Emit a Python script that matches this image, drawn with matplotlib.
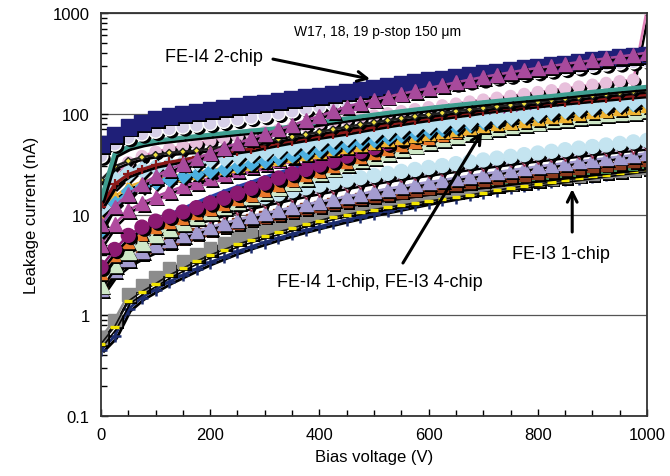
import numpy as np
import matplotlib
matplotlib.use("Agg")
import matplotlib.pyplot as plt
import matplotlib.patheffects as pe
from matplotlib.ticker import FixedLocator, LogLocator, NullFormatter, FixedFormatter, MultipleLocator

plt.rcParams['font.family'] = ['Liberation Sans', 'DejaVu Sans']

# Bias voltage steps (V)
volts = np.arange(0, 1001, 25)

# ---- FE-I3 1-chip (nA) ----
i3_plus = [0.45, 0.62, 1.15, 1.5, 1.8, 2.15, 2.5, 2.9, 3.35, 3.8, 4.3, 4.8, 5.3, 5.85, 6.4, 7.0, 7.6, 8.2, 8.85, 9.5,
           10.2, 10.9, 11.6, 12.4, 13.2, 14.0, 14.8, 15.6, 16.5, 17.4, 18.3, 19.2, 20.1, 21.0, 21.9, 22.9, 23.9, 24.9,
           25.9, 26.9, 28]
i3_yellow = [0.52, 0.77, 1.38, 1.72, 2.06, 2.5, 2.92, 3.44, 3.96, 4.47, 5.07, 5.59, 6.11, 6.71, 7.31, 8.0, 8.69, 9.46,
             9.98, 10.6, 11.2, 11.8, 12.4, 13.0, 13.6, 14.2, 14.8, 15.6, 16.5, 17.4, 18.3, 19.2, 20.1, 21.0, 21.9,
             22.9, 23.9, 24.9, 25.9, 26.9, 28]
i3_gray = [0.6, 0.9, 1.6, 2.0, 2.4, 2.9, 3.4, 4.0, 4.6, 5.2, 5.9, 6.5, 7.1, 7.8, 8.5, 9.3, 10.1, 11.0, 11.6, 12.3,
           13.0, 13.7, 14.4, 15.1, 15.8, 16.5, 17.2, 18.0, 18.8, 19.6, 20.4, 21.2, 22.0, 22.8, 23.6, 24.5, 25.4, 26.3,
           27.2, 28.1, 29]
i3_green = [1.6, 2.5, 3.2, 3.8, 4.4, 5.0, 5.5, 6.1, 6.7, 7.3, 7.9, 8.5, 9.1, 9.7, 10.3, 10.9, 11.5, 12.1, 12.7, 13.3,
            13.9, 14.5, 15.1, 15.8, 16.5, 17.2, 17.9, 18.6, 19.3, 20.0, 20.8, 21.6, 22.4, 23.2, 24.0, 24.9, 25.8,
            26.7, 27.6, 28.6, 29.6]
i3_brown = [1.75, 2.7, 3.45, 4.1, 4.75, 5.3, 5.85, 6.4, 7.0, 7.6, 8.2, 8.85, 9.45, 10.05, 10.7, 11.4, 12.1, 12.8,
            13.55, 14.3, 15.1, 15.9, 16.7, 17.5, 18.3, 19.1, 20.0, 20.9, 21.8, 22.7, 23.7, 24.7, 25.7, 26.7, 27.7,
            28.8, 29.9, 31.0, 32.1, 33.3, 34.5]
i3_lav = [1.8, 2.8, 3.6, 4.3, 5.0, 5.6, 6.2, 6.8, 7.5, 8.2, 8.9, 9.6, 10.3, 11.0, 11.8, 12.6, 13.4, 14.2, 15.1, 16.0,
          17.0, 18.0, 19.0, 20, 21, 22, 23.1, 24.2, 25.3, 26.4, 27.6, 28.8, 30, 31.2, 32.4, 33.7, 35, 36.3, 37.6,
          39, 40.5]
i3_white = [2.6, 3.6, 4.5, 5.3, 6.1, 6.9, 7.7, 8.5, 9.3, 10.2, 11.1, 12.0, 12.9, 13.8, 14.8, 15.8, 16.8, 17.8, 18.9,
            20, 21.1, 22.2, 23.3, 24.4, 25.5, 26.7, 27.9, 29.1, 30.3, 31.5, 32.8, 34.1, 35.4, 36.7, 38, 39.4, 40.8,
            42.2, 43.6, 45, 46.5]
i3_sky = [3.0, 4.2, 5.3, 6.2, 7.1, 8.0, 8.9, 9.9, 10.9, 11.9, 12.9, 14.0, 15.0, 16.0, 17.2, 18.4, 19.6, 20.8, 22,
          23.2, 24.4, 25.6, 26.8, 28, 29.3, 30.6, 32, 33.4, 34.8, 36.3, 37.8, 39.3, 40.8, 42.4, 44, 45.6, 47.3, 49,
          50.8, 52.6, 54.5]

# ---- FE-I4 1-chip, FE-I3 4-chip (nA) ----
b_green = [2.0, 3.2, 4.3, 5.3, 6.3, 7.3, 8.4, 9.5, 10.7, 12.0, 13.4, 15.0, 16.8, 18.8, 21, 23.5, 26, 29, 32, 35,
           38, 41, 45, 49, 53, 57, 61, 65, 69, 73, 76, 80, 83, 87, 90, 94, 97, 100, 103, 106, 110]
b_blue = [2.5, 4.0, 5.5, 7.0, 8.5, 10, 11.5, 13.2, 15, 17, 19, 21, 23.5, 26, 28.5, 31, 34, 37, 40, 43,
          47, 51, 55, 59, 63, 68, 73, 78, 83, 88, 93, 98, 103, 108, 114, 120, 126, 132, 138, 144, 150]
b_orange = [2.6, 3.9, 5.3, 6.4, 7.4, 8.3, 9.2, 10.2, 11.3, 12.6, 14, 15.6, 17.5, 19.6, 22, 24.5, 27, 30, 33, 36.5,
            40, 44, 48, 52.5, 57, 61.5, 66, 70.5, 75, 79.5, 84, 88.5, 93, 97.5, 102, 106.5, 111, 115.5, 120, 124.5,
            129]
b_plum = [3.0, 4.5, 6.2, 7.5, 8.6, 9.6, 10.6, 11.7, 13, 14.5, 16.2, 18.2, 20.5, 23, 25.5, 28, 31, 34, 38, 42,
          46, 51, 56, 61, 66, 71, 76, 81, 86, 91, 96, 101, 106, 111, 116, 121, 126, 131, 136, 141, 146]
b_magenta = [5, 8, 11, 13, 15, 17, 19, 21, 23, 25, 27.5, 30, 32.5, 35, 38, 41, 44, 47, 50, 53,
             57, 61, 65, 69, 73, 77, 81, 85, 90, 95, 100, 105, 110, 115, 120, 125, 130, 135, 140, 145, 150]
b_gold = [9, 15, 19, 21, 23, 24, 25, 26, 27.5, 29, 30.5, 32, 34, 36, 38, 40, 42, 44.5, 47, 49.5,
          52, 55, 58, 61, 64, 67, 70, 73, 76, 79, 82, 85.5, 89, 92.5, 96, 100, 104, 108, 112, 116, 120]
b_azure = [7, 13, 17, 19, 21, 22.5, 24, 25.5, 27, 28.5, 30, 32, 34, 36, 38.5, 41, 43.5, 46, 49, 52,
           55, 58, 61, 64, 67, 70, 74, 78, 82, 86, 90, 94, 98, 102, 106, 110, 114, 118, 122, 126, 130]
b_pale = [12, 22, 26, 28, 30, 31, 33, 34, 36, 37, 39, 41, 43, 45, 48, 51, 54, 57, 60, 63,
          66, 69, 72, 75, 78, 81, 84, 87, 90, 93, 96, 100, 104, 108, 112, 116, 120, 124, 128, 132, 136]
b_red = [12, 20, 25, 28, 31, 33, 35, 37, 39, 41, 43, 45, 48, 51, 54, 57, 60, 63, 66, 70,
         74, 78, 82, 86, 90, 94, 98, 102, 107, 111, 115, 119, 123, 127, 131, 135, 139, 143, 147, 151, 155]
b_black = [22, 30, 34, 37, 39, 41, 42, 43, 45, 47, 49, 51, 53, 56, 59, 62, 66, 70, 74, 78,
           82, 86, 90, 94, 98, 102, 106, 110, 114, 118, 122, 126, 131, 136, 141, 146, 151, 156, 161, 166, 171]
b_teal = [14, 40, 47, 51, 54, 56, 58, 60, 62, 64, 66, 68, 70, 72, 75, 78, 82, 86, 90, 94,
          98, 102, 106, 110, 114, 118, 122, 126, 130, 134, 138, 142, 146, 150, 155, 160, 165, 170, 175, 180, 185]
b_pink = [10, 25, 33, 38, 42, 45, 48, 51, 54, 57, 60, 63, 66, 69, 72, 76, 80, 84, 88, 92,
          96, 101, 106, 111, 116, 121, 126, 132, 138, 144, 150, 157, 164, 171, 178, 186, 194, 202, 210, 218, 1100]

# ---- FE-I4 2-chip (nA) ----
a_lilac = [38, 50, 58, 63, 67, 71, 74, 77, 80, 84, 88, 92, 96, 101, 106, 112, 118, 125, 132, 139,
           147, 155, 164, 173, 182, 192, 202, 212, 222, 232, 242, 252, 262, 272, 282, 292, 302, 312, 320, 328, 335]
a_navy = [50, 62, 74, 82, 90, 95, 100, 105, 110, 115, 120, 125, 130, 136, 141, 147, 153, 160, 167, 174,
          182, 190, 198, 207, 216, 225, 234, 244, 254, 264, 275, 286, 297, 308, 318, 330, 342, 354, 366, 378, 390]
a_magenta = [8, 12, 16, 20, 24, 28, 32, 36, 41, 46, 51, 57, 63, 70, 77, 86, 95, 106, 118, 128,
             138, 148, 158, 168, 180, 192, 205, 218, 232, 245, 258, 272, 285, 298, 312, 326, 340, 355, 370, 385, 405]


def trace(ax, y, color, marker=None, ms=9, mfc=None, mec=None, mew=1.0, lw=1.8, lcolor=None):
    """One IV curve: line plus markers, both with an offset black shadow."""
    y = np.asarray(y, dtype=float)
    ax.plot(volts, y, color=lcolor or color, lw=lw, solid_capstyle='butt',
            path_effects=[pe.SimpleLineShadow(offset=(1.5, -1.5), shadow_color='k', alpha=1.0),
                          pe.Normal()])
    if marker is None:
        return
    face = mfc or color
    ax.plot(volts, y, ls='none', marker=marker, ms=ms, mfc=face, mec=mec or face, mew=mew,
            path_effects=[pe.SimplePatchShadow(offset=(2.0, -2.0), shadow_rgbFace='k', alpha=1.0),
                          pe.Normal()])


fig = plt.figure(figsize=(6.7, 4.77), dpi=100)
ax = fig.add_axes([0.1507, 0.1258, 0.8150, 0.8448])

# FE-I3 1-chip
trace(ax, i3_plus, '#1c2c6e', '+', ms=9, mew=1.8, lw=2)
trace(ax, i3_gray, '#8c8c8c', 's', ms=9)
trace(ax, i3_yellow, '#f2e400', '_', ms=6, mew=2.4, lw=1.2, lcolor='#111111')
trace(ax, i3_green, '#3d8b5a', '_', ms=7, mew=2.8)
trace(ax, i3_brown, '#8b3a1e', 's', ms=8)
trace(ax, i3_lav, '#a49cd0', '^', ms=10)
trace(ax, i3_white, '#9a3050', 'v', ms=7, mfc='white', mec='#9a3050', lcolor='#c8c0e0')
trace(ax, i3_sky, '#c4e4f0', 'o', ms=10)

# FE-I4 1-chip, FE-I3 4-chip
trace(ax, b_pink, '#e080b8', 'o', ms=8, mfc='#e8c0dc')
trace(ax, b_green, '#cfe8c8', '^', ms=11)
trace(ax, b_blue, '#2b3fa8', '.', ms=4, lw=2.2)
trace(ax, b_orange, '#e8782a', '^', ms=8)
trace(ax, b_plum, '#8c1a72', 'o', ms=10)
trace(ax, b_magenta, '#b04a9e', '^', ms=10)
trace(ax, b_gold, '#f0b432', '^', ms=9)
trace(ax, b_azure, '#4db0e0', 'D', ms=7)
trace(ax, b_pale, '#b8e0f0', 'D', ms=9)
trace(ax, b_red, '#8b1a1a', '+', ms=7, mew=1.6, lw=2.2)
trace(ax, b_black, '#202020', 'D', ms=3.5, mfc='#f0e040', mec='#202020', lw=1.8)
trace(ax, b_teal, '#3f9e90', '.', ms=3, lw=3)

# FE-I4 2-chip
trace(ax, a_lilac, '#d6cfe8', 'o', ms=10, mfc='#d6cfe8', mec='white')
trace(ax, a_navy, '#1f1f78', 's', ms=11)
trace(ax, a_magenta, '#a84a9c', '^', ms=10)

ax.set_yscale('log')
ax.set_xlim(0, 1000)
ax.set_ylim(0.1, 1000)

ax.yaxis.set_major_locator(FixedLocator([0.1, 1, 10, 100, 1000]))
ax.yaxis.set_major_formatter(FixedFormatter(['0.1', '1', '10', '100', '1000']))
ax.yaxis.set_minor_locator(LogLocator(base=10, subs=np.arange(2, 10)))
ax.yaxis.set_minor_formatter(NullFormatter())
ax.xaxis.set_major_locator(MultipleLocator(200))
ax.xaxis.set_minor_locator(MultipleLocator(50))

ax.tick_params(which='both', direction='in', top=False, right=False, labelsize=12, pad=8)
ax.tick_params(which='major', length=5, width=1)
ax.tick_params(which='minor', length=4, width=1)

ax.yaxis.grid(True, which='major', color='#555555', lw=0.9)
ax.set_axisbelow(True)
for sp in ax.spines.values():
    sp.set_linewidth(1.3)
    sp.set_color('#333333')

ax.set_xlabel('Bias voltage (V)', fontsize=12, labelpad=5)
ax.set_ylabel('Leakage current (nA)', fontsize=12, labelpad=10)

ax.text(507, 663, 'W17, 18, 19 p-stop 150 μm', fontsize=10, ha='center', va='center')
ax.text(207, 374, 'FE-I4 2-chip', fontsize=13, ha='center', va='center')
ax.text(511, 2.14, 'FE-I4 1-chip, FE-I3 4-chip', fontsize=13, ha='center', va='center')
ax.text(842, 4.1, 'FE-I3 1-chip', fontsize=13, ha='center', va='center')

arrow = dict(arrowstyle='->,head_length=0.7,head_width=0.35', color='black', lw=2.2, shrinkA=0, shrinkB=0)
ax.annotate('', xy=(493, 221), xytext=(315, 349), arrowprops=arrow)
ax.annotate('', xy=(698, 66), xytext=(553, 3.3), arrowprops=arrow)
ax.annotate('', xy=(863, 17.9), xytext=(863, 6.7), arrowprops=arrow)

fig.savefig('out.png', dpi=100)
